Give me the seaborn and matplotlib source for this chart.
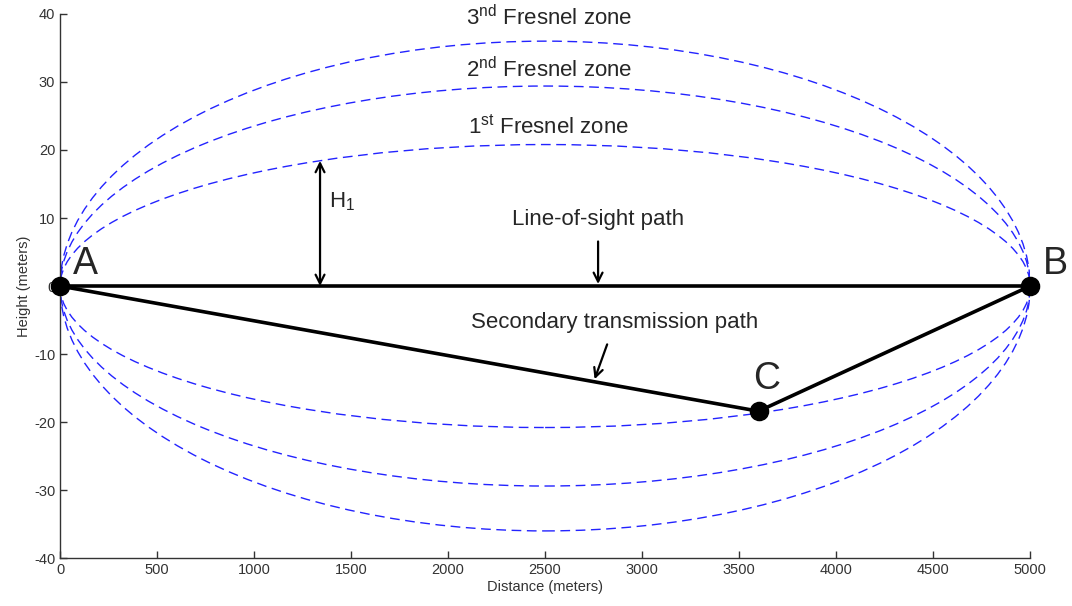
import matplotlib
matplotlib.use("Agg")
import matplotlib.pyplot as plt
from matplotlib.patches import Ellipse
import seaborn as sns
import pandas as pd

# ---- data ----
path_length = 5000                      # meters, distance A -> B
zone_names = ["1$^{\\rm st}$ Fresnel zone", "2$^{\\rm nd}$ Fresnel zone", "3$^{\\rm nd}$ Fresnel zone"]
zone_peak = [20.8, 29.4, 36.0]          # maximal radius of each zone (m), read at mid-path
point_names = ["A", "B", "C"]
point_x = [0, 5000, 3600]
point_y = [0, 0, -18.4]
h1_x = 1340
h1_top = 18.4
x_ticks = list(range(0, 5001, 500))
y_ticks = list(range(-40, 41, 10))

sns.set_style("ticks", {"xtick.direction": "in", "ytick.direction": "in"})
plt.rcParams["font.family"] = ["Liberation Sans", "DejaVu Sans"]
plt.rcParams["mathtext.fontset"] = "custom"
plt.rcParams["mathtext.rm"] = "Liberation Sans"
plt.rcParams["mathtext.it"] = "Liberation Sans"
plt.rcParams["axes.unicode_minus"] = False

fig = plt.figure(figsize=(10.72, 6.06), dpi=100)
ax = fig.add_axes([0.056, 0.079, 0.905, 0.898])

# Fresnel zones (ellipses between A and B)
for peak in zone_peak:
    ax.add_patch(Ellipse((path_length / 2, 0), width=path_length, height=2 * peak,
                         fill=False, edgecolor="#2323ff", lw=1.0,
                         linestyle=(0, (7, 4)), zorder=2))

pts = pd.DataFrame({"name": point_names, "x": point_x, "y": point_y})
los = pts.iloc[[0, 1]]
sec = pts.iloc[[0, 2, 1]]
sns.lineplot(data=los, x="x", y="y", sort=False, color="black", lw=2.6, ax=ax, zorder=3)
sns.lineplot(data=sec, x="x", y="y", sort=False, color="black", lw=2.6, ax=ax, zorder=3)
sns.scatterplot(data=pts, x="x", y="y", color="black", s=170, edgecolor="black",
                ax=ax, zorder=4, clip_on=False)

# Point labels
ax.text(130, 3.3, "A", fontsize=27, ha="center", va="center")
ax.text(5130, 3.3, "B", fontsize=27, ha="center", va="center")
ax.text(3640, -13.6, "C", fontsize=27, ha="center", va="center")

# Zone labels
label_y = [23.4, 31.8, 39.4]
for name, ly in zip(zone_names, label_y):
    ax.text(2520, ly, name, fontsize=16, ha="center", va="center")

# H1 arrow
ax.annotate("", xy=(h1_x, h1_top), xytext=(h1_x, 0),
            arrowprops=dict(arrowstyle="<->", lw=1.6, color="black", mutation_scale=16,
                            shrinkA=0, shrinkB=0))
ax.text(h1_x + 45, 12.4, "H$_1$", fontsize=16, ha="left", va="center")

# Line-of-sight label
ax.annotate("Line-of-sight path", xy=(2773, 0.3), xytext=(2773, 9.8),
            fontsize=16, ha="center", va="center",
            arrowprops=dict(arrowstyle="->", lw=1.6, color="black", mutation_scale=16,
                            shrinkA=6, shrinkB=0))
# Secondary path label
ax.annotate("Secondary transmission path", xy=(2755, -13.7), xytext=(2860, -5.4),
            fontsize=16, ha="center", va="center",
            arrowprops=dict(arrowstyle="->", lw=1.6, color="black", mutation_scale=16,
                            shrinkA=6, shrinkB=0))

ax.set_xlim(0, 5000)
ax.set_ylim(-40, 40)
ax.set_xticks(x_ticks)
ax.set_yticks(y_ticks)
ax.tick_params(labelsize=10.5, labelcolor="#333333", length=5, width=1, color="#333333")
ax.set_xlabel("Distance (meters)", fontsize=10.5, color="#333333", labelpad=2)
ax.set_ylabel("Height (meters)", fontsize=10.5, color="#333333", labelpad=2)
sns.despine(ax=ax)
for s in ["left", "bottom"]:
    ax.spines[s].set_color("#333333")
    ax.spines[s].set_linewidth(1)

fig.savefig("out.png", dpi=100)
